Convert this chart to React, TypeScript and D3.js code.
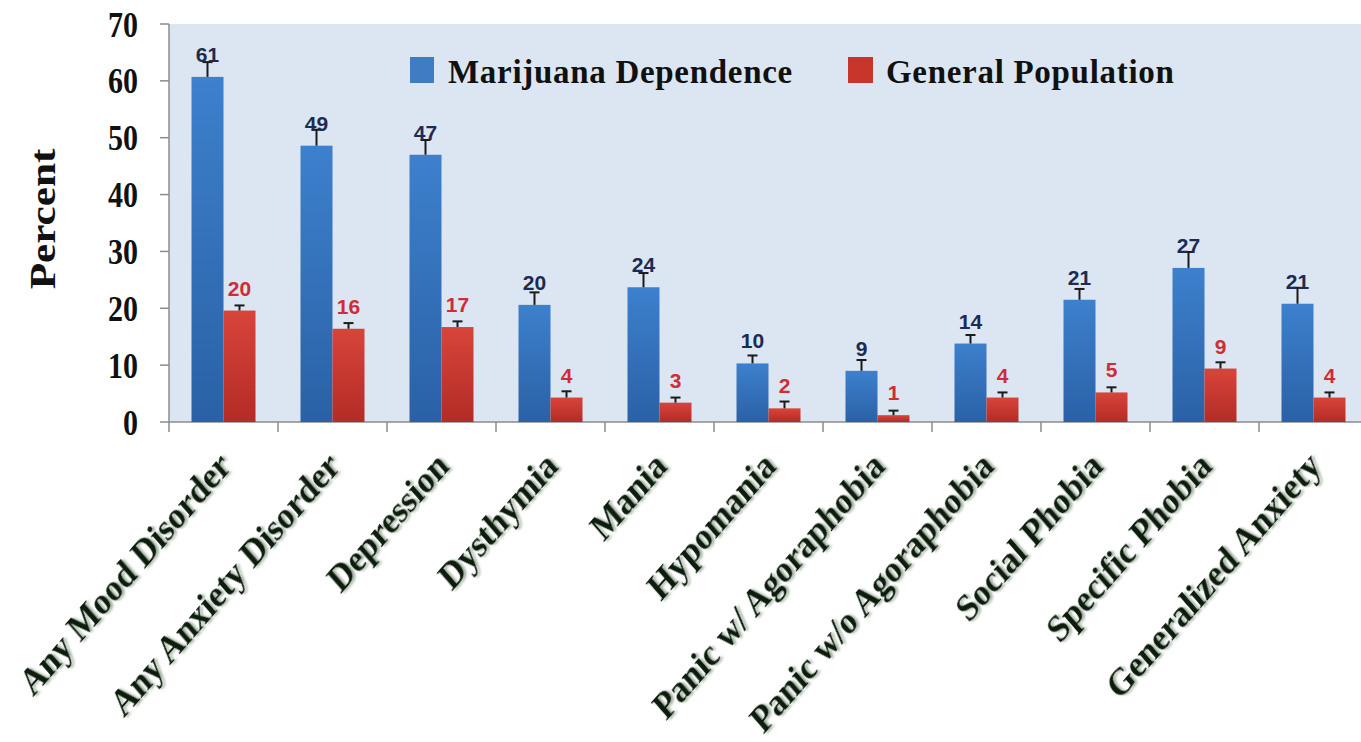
import * as d3 from 'd3';

const categories = [
  'Any Mood Disorder', 'Any Anxiety Disorder', 'Depression', 'Dysthymia', 'Mania',
  'Hypomania', 'Panic w/ Agoraphobia', 'Panic w/o Agoraphobia', 'Social Phobia',
  'Specific Phobia', 'Generalized Anxiety',
];
const seriesNames = ['Marijuana Dependence', 'General Population'];
const dependence = [60.7, 48.6, 47.0, 20.6, 23.7, 10.3, 9.0, 13.8, 21.5, 27.1, 20.8];
const generalPop = [19.6, 16.4, 16.7, 4.3, 3.4, 2.4, 1.2, 4.3, 5.2, 9.4, 4.3];
const dependenceErr = [2.6, 2.8, 2.6, 2.2, 2.5, 1.4, 1.9, 1.5, 1.9, 2.8, 2.8];
const generalPopErr = [0.9, 1.0, 1.0, 1.1, 0.9, 1.2, 0.8, 0.9, 0.9, 1.1, 0.9];
const dependenceLabels = ['61', '49', '47', '20', '24', '10', '9', '14', '21', '27', '21'];
const generalPopLabels = ['20', '16', '17', '4', '3', '2', '1', '4', '5', '9', '4'];
const yTicks = [0, 10, 20, 30, 40, 50, 60, 70];

const W = 1361;
const H = 742;
const left = 169;
const top = 24;
const bottom = 422;

const serif = '"Liberation Serif", "Times New Roman", serif';
const narrow = '"Liberation Sans Narrow", "Arial Narrow", "Liberation Sans", sans-serif';

export default function App() {
  const x = d3.scaleBand<string>().domain(categories).range([left, left + 109 * categories.length]).padding(0);
  const inner = d3.scaleBand<string>().domain(seriesNames).range([0, 64]).padding(0);
  const y = d3.scaleLinear().domain([0, 70]).range([bottom, top]);
  const off = (x.bandwidth() - 64) / 2;

  const series = [
    { name: seriesNames[0], values: dependence, err: dependenceErr, labels: dependenceLabels, fill: 'url(#gBlue)', text: '#1c2b52' },
    { name: seriesNames[1], values: generalPop, err: generalPopErr, labels: generalPopLabels, fill: 'url(#gRed)', text: '#d02c38' },
  ];

  return (
    <svg width={W} height={H} style={{ position: 'absolute', left: 0, top: 0, background: '#fff' }}>
      <defs>
        <linearGradient id="gBlue" x1="0" y1="0" x2="0" y2="1">
          <stop offset="0%" stopColor="#3d80cd" />
          <stop offset="100%" stopColor="#2a61a6" />
        </linearGradient>
        <linearGradient id="gRed" x1="0" y1="0" x2="0" y2="1">
          <stop offset="0%" stopColor="#d8443a" />
          <stop offset="100%" stopColor="#b32c26" />
        </linearGradient>
        <filter id="shadow" x="-10%" y="-10%" width="130%" height="130%">
          <feDropShadow dx="2" dy="2" stdDeviation="1.2" floodColor="#7f957f" floodOpacity="0.7" />
        </filter>
      </defs>

      {/* plot background */}
      <rect x={left} y={top} width={W - left} height={bottom - top} fill="#dce6f2" />

      {/* y axis */}
      <line x1={left} x2={left} y1={top} y2={bottom} stroke="#8c8c8c" strokeWidth={1.5} />
      {yTicks.map((t) => (
        <g key={t}>
          <line x1={left - 9} x2={left} y1={y(t)} y2={y(t)} stroke="#8c8c8c" strokeWidth={1.5} />
          <text transform={`translate(138,${y(t)}) scale(1,1.2)`} dy="0.35em" textAnchor="end" fontFamily={serif} fontWeight="bold" fontSize={30} fill="#111">
            {t}
          </text>
        </g>
      ))}
      <text transform="translate(55,219) scale(1,1.2) rotate(-90)" textAnchor="middle" fontFamily={serif} fontWeight="bold" fontSize={36} fill="#111">
        Percent
      </text>

      {/* x axis */}
      <line x1={left} x2={W} y1={bottom} y2={bottom} stroke="#8c8c8c" strokeWidth={1.5} />
      {categories.map((c) => (
        <line key={c} x1={x(c)!} x2={x(c)!} y1={bottom} y2={bottom + 10} stroke="#8c8c8c" strokeWidth={1.5} />
      ))}

      {/* bars */}
      {series.map((s) =>
        categories.map((c, i) => {
          const bx = x(c)! + off + inner(s.name)!;
          const bw = inner.bandwidth();
          const cx = bx + bw / 2;
          const yTop = y(s.values[i]);
          const yErr = y(s.values[i] + s.err[i]);
          return (
            <g key={s.name + c}>
              <rect x={bx} y={yTop} width={bw} height={bottom - yTop} fill={s.fill} />
              <line x1={cx} x2={cx} y1={yTop} y2={yErr} stroke="#1a1a1a" strokeWidth={2} />
              <line x1={cx - 5} x2={cx + 5} y1={yErr} y2={yErr} stroke="#1a1a1a" strokeWidth={2} />
              <text x={cx} y={yTop - 15} textAnchor="middle" fontFamily={narrow} fontWeight="bold" fontSize={21} fill={s.text}>
                {s.labels[i]}
              </text>
            </g>
          );
        })
      )}

      {/* category labels */}
      {categories.map((c) => {
        const cx = x(c)! + x.bandwidth() / 2;
        return (
          <text
            key={c}
            transform={`translate(${cx + 9},${468}) scale(1,1.15) rotate(-45)`}
            textAnchor="end"
            fontFamily={serif}
            fontWeight="bold"
            fontSize={33}
            fill="#0b1f0b"
            filter="url(#shadow)"
          >
            {c}
          </text>
        );
      })}

      {/* legend */}
      <rect x={410} y={57} width={24} height={26} fill="#3f7cc4" />
      <text x={448} y={83} fontFamily={serif} fontWeight="bold" fontSize={33} letterSpacing={0.7} fill="#111">
        {seriesNames[0]}
      </text>
      <rect x={848} y={57} width={25} height={26} fill="#c8352b" />
      <text x={886} y={83} fontFamily={serif} fontWeight="bold" fontSize={33} letterSpacing={0.7} fill="#111">
        {seriesNames[1]}
      </text>
    </svg>
  );
}
